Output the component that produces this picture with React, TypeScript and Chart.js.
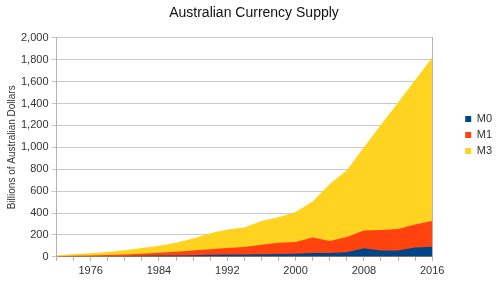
import React, { useEffect, useRef } from "react";
import { Chart, registerables } from "chart.js";

Chart.register(...registerables);

const years = [1972, 1974, 1976, 1978, 1980, 1982, 1984, 1986, 1988, 1990, 1992, 1994, 1996, 1998, 2000, 2002, 2004, 2006, 2008, 2010, 2012, 2014, 2016];
const m3 = [15, 24, 32, 44, 60, 80, 100, 128, 168, 215, 250, 268, 328, 362, 410, 505, 665, 790, 1000, 1205, 1410, 1615, 1820];
const m1 = [6, 9, 13, 17, 22, 28, 36, 46, 58, 70, 80, 90, 110, 128, 135, 176, 145, 180, 240, 245, 255, 295, 327];
const m0 = [3, 4, 5, 6, 8, 10, 11, 13, 15, 18, 20, 22, 24, 26, 28, 35, 34, 42, 79, 58, 58, 85, 92];
const xLabelYears = [1976, 1984, 1992, 2000, 2008, 2016];

const FONT = "'Liberation Sans', Arial, sans-serif";

const shiftLegend = {
  id: "shiftLegend",
  afterLayout(chart: any) {
    const lg = chart.legend;
    if (lg) {
      lg.top -= 6;
      lg.bottom -= 6;
    }
  },
};

export default function App() {
  const ref = useRef<HTMLCanvasElement>(null);
  useEffect(() => {
    document.body.style.margin = "0";
    const ctx = ref.current!.getContext("2d")!;
    const toPts = (arr: number[]) => years.map((y, i) => ({ x: y, y: arr[i] }));
    const chart = new Chart(ctx, {
      type: "line",
      plugins: [shiftLegend],
      data: {
        datasets: [
          { label: "M0", data: toPts(m0), backgroundColor: "#004586", borderColor: "#004586", fill: "origin", borderWidth: 0, pointRadius: 0, tension: 0 },
          { label: "M1", data: toPts(m1), backgroundColor: "#ff420e", borderColor: "#ff420e", fill: "origin", borderWidth: 0, pointRadius: 0, tension: 0 },
          { label: "M3", data: toPts(m3), backgroundColor: "#ffd320", borderColor: "#ffd320", fill: "origin", borderWidth: 0, pointRadius: 0, tension: 0 },
        ],
      },
      options: {
        animation: false,
        responsive: false,
        layout: { padding: { top: 0, left: 6, right: -6, bottom: 1 } },
        plugins: {
          tooltip: { enabled: false },
          title: {
            display: true,
            text: "Australian Currency Supply",
            color: "#111",
            font: { family: FONT, size: 14, weight: "normal" },
            padding: { top: 5, bottom: 16 },
          },
          legend: {
            position: "right",
            labels: {
              boxWidth: 6,
              boxHeight: 6,
              color: "#333",
              padding: 5,
              font: { family: FONT, size: 11 },
            },
          },
        },
        scales: {
          x: {
            type: "linear",
            min: 1972,
            max: 2016,
            border: { color: "#b3b3b3" },
            grid: { drawOnChartArea: false, drawTicks: true, tickLength: 4, color: "#b3b3b3" },
            ticks: {
              stepSize: 2,
              autoSkip: false,
              maxRotation: 0,
              color: "#333",
              font: { family: FONT, size: 11 },
              padding: 4,
              callback: (v: any) => (xLabelYears.includes(Number(v)) ? String(v) : ""),
            },
          },
          y: {
            min: 0,
            max: 2000,
            border: { color: "#b3b3b3" },
            grid: { color: "#c8c8c8", tickLength: 5 },
            ticks: {
              stepSize: 200,
              color: "#333",
              font: { family: FONT, size: 11 },
              padding: 3,
              callback: (v: any) => Number(v).toLocaleString("en-US"),
            },
            title: {
              display: true,
              text: "Billions of Australian Dollars",
              color: "#333",
              font: { family: FONT, size: 10 },
              padding: 0,
            },
          },
          yR: {
            position: "right",
            min: 0,
            max: 2000,
            border: { color: "#b3b3b3" },
            grid: { display: false },
            ticks: { display: false },
            afterFit: (s: any) => {
              s.width = 28;
            },
          },
        },
      },
    });
    return () => chart.destroy();
  }, []);
  return (
    <div style={{ position: "fixed", left: 0, top: 0, width: 496, height: 283, background: "#fff" }}>
      <canvas ref={ref} width={496} height={283} />
    </div>
  );
}
